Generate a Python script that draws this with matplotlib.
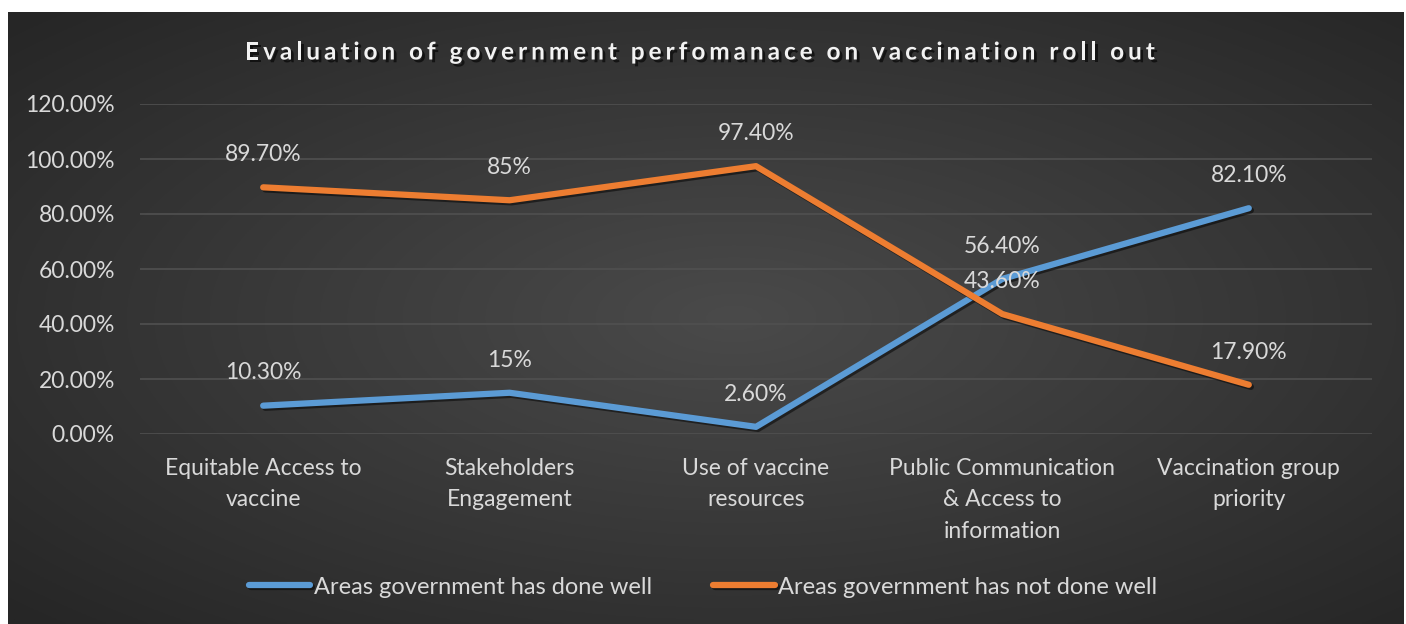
import numpy as np
import matplotlib.pyplot as plt
import matplotlib.patheffects as pe

# Datos de la encuesta
categorias = ["Equitable Access to\nvaccine", "Stakeholders\nEngagement",
              "Use of vaccine\nresources", "Public Communication\n& Access to\ninformation",
              "Vaccination group\npriority"]
bien = [10.3, 15.0, 2.6, 56.4, 82.1]
no_bien = [89.7, 85.0, 97.4, 43.6, 17.9]
etiquetas_bien = ["10.30%", "15%", "2.60%", "56.40%", "82.10%"]
etiquetas_no_bien = ["89.70%", "85%", "97.40%", "43.60%", "17.90%"]
ticks_y = [0, 20, 40, 60, 80, 100, 120]
titulo = 'Evaluation of government perfomanace on vaccination roll out'

plt.rcParams['font.family'] = ['Lato', 'DejaVu Sans']
texto = '#d9d9d9'
azul = '#5b9bd5'
naranja = '#ed7d31'
tam = 16.5

fig = plt.figure(figsize=(14.06, 6.24), dpi=100)
fig.patch.set_facecolor('white')

# Fondo con degradado radial
fondo = fig.add_axes([8 / 1406, 0, 1396 / 1406, 612 / 624])
fondo.axis('off')
yy, xx = np.mgrid[0:1:300j, 0:1:700j]
r = np.sqrt(((xx - 0.52) / 0.75) ** 2 + ((yy - 0.5) / 0.75) ** 2)
r = np.clip(r / 0.95, 0, 1)
gris = 0x4a / 255 * (1 - r) + 0x26 / 255 * r
fondo.imshow(np.dstack([gris, gris, gris]), aspect='auto', extent=[0, 1, 0, 1])
fondo.set_xlim(0, 1)
fondo.set_ylim(0, 1)

ax = fig.add_axes([140 / 1406, 190 / 624, 1232 / 1406, 330 / 624])
ax.set_facecolor('none')
x = np.arange(len(categorias))

sombra = [pe.SimpleLineShadow(offset=(1.5, -1.5), shadow_color='black', alpha=0.5), pe.Normal()]
ax.plot(x, bien, color=azul, lw=4.5, solid_capstyle='round', solid_joinstyle='round',
        path_effects=sombra, label='Areas government has done well', zorder=3)
ax.plot(x, no_bien, color=naranja, lw=4.5, solid_capstyle='round', solid_joinstyle='round',
        path_effects=sombra, label='Areas government has not done well', zorder=3)

for xi, v, t in zip(x, bien, etiquetas_bien):
    ax.annotate(t, (xi, v), xytext=(0, 16), textcoords='offset points',
                ha='center', va='bottom', color=texto, fontsize=tam)
for xi, v, t in zip(x, no_bien, etiquetas_no_bien):
    ax.annotate(t, (xi, v), xytext=(0, 16), textcoords='offset points',
                ha='center', va='bottom', color=texto, fontsize=tam)

ax.set_xlim(-0.5, 4.5)
ax.set_ylim(0, 120)
ax.set_yticks(ticks_y)
ax.set_yticklabels(['{:.2f}%'.format(t) for t in ticks_y])
ax.set_xticks(x)
ax.set_xticklabels(categorias, linespacing=1.62)
ax.tick_params(axis='both', length=0, colors=texto, labelsize=tam)
ax.tick_params(axis='y', pad=18)
ax.tick_params(axis='x', pad=17)
ax.grid(axis='y', color='#505050', lw=1.2)
for s in ax.spines.values():
    s.set_visible(False)

# Titulo con espaciado entre letras, letra por letra
renderer = fig.canvas.get_renderer()
estilo = dict(color='#f2f2f2', fontsize=17.5, fontweight='bold', va='center', ha='left',
              path_effects=[pe.SimplePatchShadow(offset=(2, -2), shadow_rgbFace='black', alpha=0.6),
                            pe.Normal()])
espacio = 4.0
anchos = []
for c in titulo:
    if c == ' ':
        t = fig.text(0, 0, 'a a', **estilo)
        w = t.get_window_extent(renderer).width
        t2 = fig.text(0, 0, 'aa', **estilo)
        w -= t2.get_window_extent(renderer).width
        t.remove()
        t2.remove()
    else:
        t = fig.text(0, 0, c, **estilo)
        w = t.get_window_extent(renderer).width
        t.remove()
    anchos.append(w + espacio)
total = sum(anchos) - espacio
xpos = 1406 / 2 - total / 2 - 3
ypos = 1 - 52 / 624
for c, w in zip(titulo, anchos):
    if c != ' ':
        fig.text(xpos / 1406, ypos, c, **estilo)
    xpos += w

leg = fig.legend(loc='center', bbox_to_anchor=(0.5, 1 - 587 / 624), ncol=2, frameon=False,
                 fontsize=17, handlelength=2.6, handletextpad=0.15, columnspacing=2.6)
for t in leg.get_texts():
    t.set_color(texto)

plt.savefig('out.png', dpi=100)
